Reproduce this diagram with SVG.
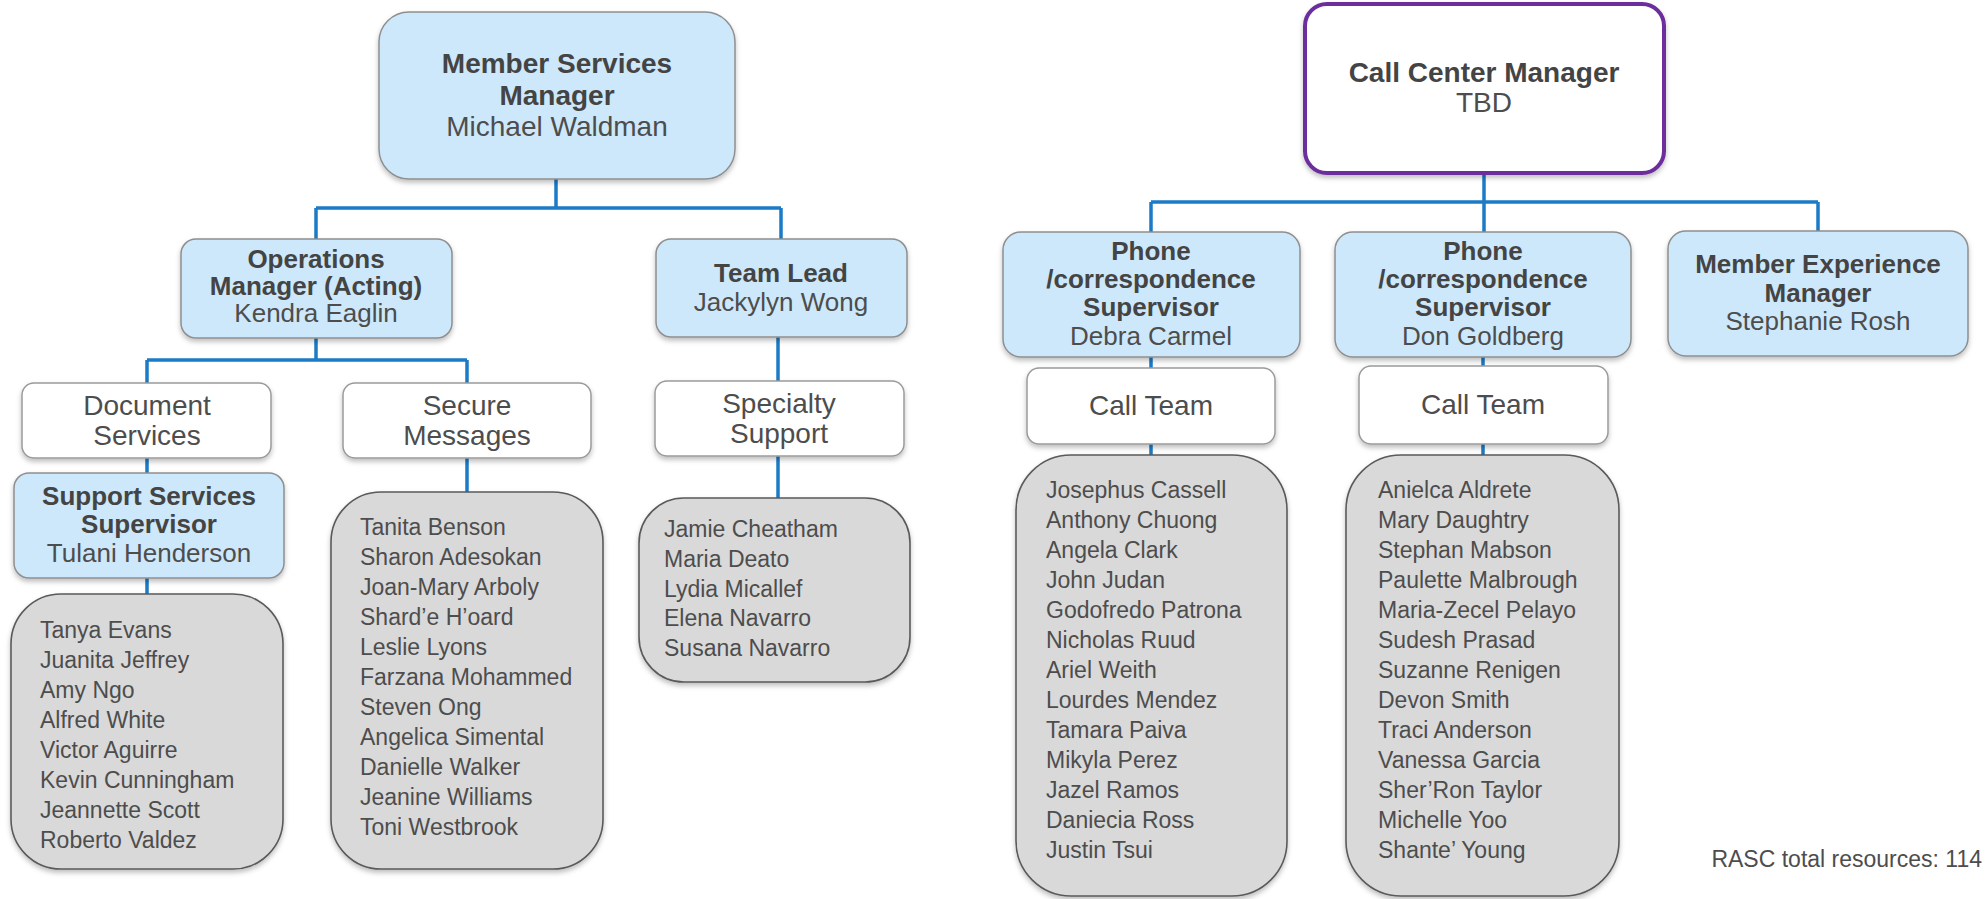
<svg xmlns="http://www.w3.org/2000/svg" width="1988" height="899" viewBox="0 0 1988 899">
<defs>
<filter id="sh" x="-10%" y="-10%" width="120%" height="130%">
<feDropShadow dx="0" dy="3" stdDeviation="2.5" flood-color="#000" flood-opacity="0.25"/>
</filter>
<style>
.blue{fill:#cde8fa;stroke:#8f8f8f;stroke-width:1.5;filter:url(#sh)}
.white{fill:#ffffff;stroke:#9a9a9a;stroke-width:1.5;filter:url(#sh)}
.list{fill:#d9d9d9;stroke:#5a5a5a;stroke-width:1.6;filter:url(#sh)}
.ccm{fill:#ffffff;stroke:#6c2d9c;stroke-width:4;filter:url(#sh)}
.conn{fill:none;stroke:#1b7bc6;stroke-width:3.5}
text{font-family:"Liberation Sans",Arial,sans-serif;fill:#4d4d4d}
.b28{font-size:28px;font-weight:bold;text-anchor:middle;fill:#444}
.r28{font-size:28px;text-anchor:middle}
.b26{font-size:26px;font-weight:bold;text-anchor:middle;fill:#444}
.r26{font-size:26px;text-anchor:middle}
.nm{font-size:23px}
.note{font-size:23px;text-anchor:end}
</style>
</defs>
<rect width="1988" height="899" fill="#ffffff"/>

<g id="connectors">
<path class="conn" d="M556,179 V208 M316,208 H781 M316,208 V239 M781,208 V239"/>
<path class="conn" d="M316,338 V360 M147,360 H467 M147,360 V383 M467,360 V383"/>
<path class="conn" d="M778,337 V381"/>
<path class="conn" d="M147,458 V473 M147,578 V594"/>
<path class="conn" d="M467,458 V492"/>
<path class="conn" d="M778,456 V498"/>
<path class="conn" d="M1484,173 V232 M1151,202 H1818 M1151,202 V232 M1818,202 V231"/>
<path class="conn" d="M1151,357 V368 M1151,444 V455"/>
<path class="conn" d="M1483,357 V366 M1483,444 V455"/>
</g>

<g id="member-services-manager">
<rect class="blue" x="379" y="12" width="356" height="167" rx="30"/>
<text class="b28" x="557" y="73">Member Services</text>
<text class="b28" x="557" y="105">Manager</text>
<text class="r28" x="557" y="136">Michael Waldman</text>
</g>

<g id="operations-manager">
<rect class="blue" x="181" y="239" width="271" height="99" rx="15"/>
<text class="b26" x="316" y="268">Operations</text>
<text class="b26" x="316" y="295">Manager (Acting)</text>
<text class="r26" x="316" y="322">Kendra Eaglin</text>
</g>

<g id="team-lead">
<rect class="blue" x="656" y="239" width="251" height="98" rx="15"/>
<text class="b26" x="781" y="282">Team Lead</text>
<text class="r26" x="781" y="311">Jackylyn Wong</text>
</g>

<g id="document-services">
<rect class="white" x="22" y="383" width="249" height="75" rx="12"/>
<text class="r28" x="147" y="415">Document</text>
<text class="r28" x="147" y="445">Services</text>
</g>

<g id="secure-messages">
<rect class="white" x="343" y="383" width="248" height="75" rx="12"/>
<text class="r28" x="467" y="415">Secure</text>
<text class="r28" x="467" y="445">Messages</text>
</g>

<g id="specialty-support">
<rect class="white" x="655" y="381" width="249" height="75" rx="12"/>
<text class="r28" x="779" y="413">Specialty</text>
<text class="r28" x="779" y="443">Support</text>
</g>

<g id="support-services-supervisor">
<rect class="blue" x="14" y="473" width="270" height="105" rx="15"/>
<text class="b26" x="149" y="505">Support Services</text>
<text class="b26" x="149" y="533">Supervisor</text>
<text class="r26" x="149" y="562">Tulani Henderson</text>
</g>

<g id="document-team">
<rect class="list" x="11" y="594" width="272" height="275" rx="50"/>
<text class="nm" x="40" y="638">Tanya Evans</text>
<text class="nm" x="40" y="668">Juanita Jeffrey</text>
<text class="nm" x="40" y="698">Amy Ngo</text>
<text class="nm" x="40" y="728">Alfred White</text>
<text class="nm" x="40" y="758">Victor Aguirre</text>
<text class="nm" x="40" y="788">Kevin Cunningham</text>
<text class="nm" x="40" y="818">Jeannette Scott</text>
<text class="nm" x="40" y="848">Roberto Valdez</text>
</g>

<g id="secure-team">
<rect class="list" x="331" y="492" width="272" height="377" rx="50"/>
<text class="nm" x="360" y="535">Tanita Benson</text>
<text class="nm" x="360" y="565">Sharon Adesokan</text>
<text class="nm" x="360" y="595">Joan-Mary Arboly</text>
<text class="nm" x="360" y="625">Shard’e H’oard</text>
<text class="nm" x="360" y="655">Leslie Lyons</text>
<text class="nm" x="360" y="685">Farzana Mohammed</text>
<text class="nm" x="360" y="715">Steven Ong</text>
<text class="nm" x="360" y="745">Angelica Simental</text>
<text class="nm" x="360" y="775">Danielle Walker</text>
<text class="nm" x="360" y="805">Jeanine Williams</text>
<text class="nm" x="360" y="835">Toni Westbrook</text>
</g>

<g id="specialty-team">
<rect class="list" x="639" y="498" width="271" height="184" rx="45"/>
<text class="nm" x="664" y="537">Jamie Cheatham</text>
<text class="nm" x="664" y="567">Maria Deato</text>
<text class="nm" x="664" y="597">Lydia Micallef</text>
<text class="nm" x="664" y="626">Elena Navarro</text>
<text class="nm" x="664" y="656">Susana Navarro</text>
</g>

<g id="call-center-manager">
<rect class="ccm" x="1305" y="4" width="359" height="169" rx="22"/>
<text class="b28" x="1484" y="82">Call Center Manager</text>
<text class="r28" x="1484" y="112">TBD</text>
</g>

<g id="supervisor-debra">
<rect class="blue" x="1003" y="232" width="297" height="125" rx="18"/>
<text class="b26" x="1151" y="260">Phone</text>
<text class="b26" x="1151" y="288">/correspondence</text>
<text class="b26" x="1151" y="316">Supervisor</text>
<text class="r26" x="1151" y="345">Debra Carmel</text>
</g>

<g id="supervisor-don">
<rect class="blue" x="1335" y="232" width="296" height="125" rx="18"/>
<text class="b26" x="1483" y="260">Phone</text>
<text class="b26" x="1483" y="288">/correspondence</text>
<text class="b26" x="1483" y="316">Supervisor</text>
<text class="r26" x="1483" y="345">Don Goldberg</text>
</g>

<g id="member-experience-manager">
<rect class="blue" x="1668" y="231" width="300" height="125" rx="18"/>
<text class="b26" x="1818" y="273">Member Experience</text>
<text class="b26" x="1818" y="302">Manager</text>
<text class="r26" x="1818" y="330">Stephanie Rosh</text>
</g>

<g id="call-team-1">
<rect class="white" x="1027" y="368" width="248" height="76" rx="12"/>
<text class="r28" x="1151" y="415">Call Team</text>
</g>

<g id="call-team-2">
<rect class="white" x="1359" y="366" width="249" height="78" rx="12"/>
<text class="r28" x="1483" y="414">Call Team</text>
</g>

<g id="call-team-1-members">
<rect class="list" x="1016" y="455" width="271" height="441" rx="55"/>
<text class="nm" x="1046" y="498">Josephus Cassell</text>
<text class="nm" x="1046" y="528">Anthony Chuong</text>
<text class="nm" x="1046" y="558">Angela Clark</text>
<text class="nm" x="1046" y="588">John Judan</text>
<text class="nm" x="1046" y="618">Godofredo Patrona</text>
<text class="nm" x="1046" y="648">Nicholas Ruud</text>
<text class="nm" x="1046" y="678">Ariel Weith</text>
<text class="nm" x="1046" y="708">Lourdes Mendez</text>
<text class="nm" x="1046" y="738">Tamara Paiva</text>
<text class="nm" x="1046" y="768">Mikyla Perez</text>
<text class="nm" x="1046" y="798">Jazel Ramos</text>
<text class="nm" x="1046" y="828">Daniecia Ross</text>
<text class="nm" x="1046" y="858">Justin Tsui</text>
</g>

<g id="call-team-2-members">
<rect class="list" x="1346" y="455" width="273" height="441" rx="55"/>
<text class="nm" x="1378" y="498">Anielca Aldrete</text>
<text class="nm" x="1378" y="528">Mary Daughtry</text>
<text class="nm" x="1378" y="558">Stephan Mabson</text>
<text class="nm" x="1378" y="588">Paulette Malbrough</text>
<text class="nm" x="1378" y="618">Maria-Zecel Pelayo</text>
<text class="nm" x="1378" y="648">Sudesh Prasad</text>
<text class="nm" x="1378" y="678">Suzanne Renigen</text>
<text class="nm" x="1378" y="708">Devon Smith</text>
<text class="nm" x="1378" y="738">Traci Anderson</text>
<text class="nm" x="1378" y="768">Vanessa Garcia</text>
<text class="nm" x="1378" y="798">Sher’Ron Taylor</text>
<text class="nm" x="1378" y="828">Michelle Yoo</text>
<text class="nm" x="1378" y="858">Shante’ Young</text>
</g>

<text class="note" x="1982" y="867">RASC total resources: 114</text>
</svg>
